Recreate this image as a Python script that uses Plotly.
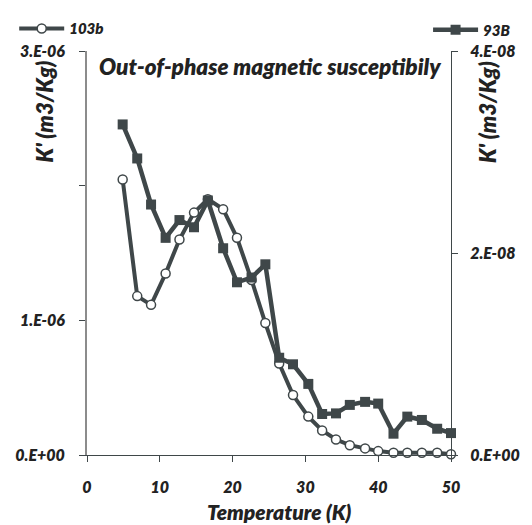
import plotly.graph_objects as go

temps = [4.9, 6.9, 8.8, 10.8, 12.7, 14.7, 16.6, 18.7, 20.6, 22.6, 24.5, 26.4,
         28.3, 30.4, 32.3, 34.2, 36.1, 38.2, 40.0, 42.1, 44.0, 46.0, 48.1, 50.0]

k_103b = [2.046e-6, 1.18e-6, 1.115e-6, 1.348e-6, 1.60e-6, 1.80e-6, 1.90e-6, 1.825e-6,
          1.613e-6, 1.30e-6, 0.98e-6, 0.68e-6, 0.445e-6, 0.285e-6, 0.182e-6, 0.115e-6,
          0.073e-6, 0.049e-6, 0.029e-6, 0.017e-6, 0.017e-6, 0.017e-6, 0.017e-6, 0.005e-6]

k_93b = [3.273e-8, 2.936e-8, 2.48e-8, 2.15e-8, 2.326e-8, 2.255e-8, 2.52e-8, 2.047e-8,
         1.71e-8, 1.757e-8, 1.888e-8, 0.963e-8, 0.898e-8, 0.704e-8, 0.406e-8, 0.412e-8,
         0.496e-8, 0.526e-8, 0.509e-8, 0.211e-8, 0.380e-8, 0.347e-8, 0.260e-8, 0.217e-8]

x_ticks = [0, 10, 20, 30, 40, 50]
left_ticks = [0, 1e-6, 2e-6, 3e-6]
left_labels = ["0.E+00", "1.E-06", "", "3.E-06"]
right_ticks = [0, 2e-8, 4e-8]
right_labels = ["0.E+00", "2.E-08", "4.E-08"]

C = "#3f4749"
FONT = "Lato"
W = 800
tickfont = dict(family=FONT, size=16, color="#222", weight=W, style="italic")
legfont = dict(family=FONT, size=15, color="#222", weight=W, style="italic")

fig = go.Figure()
fig.add_trace(go.Scatter(
    x=temps, y=k_103b, name="103b", mode="lines+markers", yaxis="y",
    line=dict(color=C, width=4),
    marker=dict(symbol="circle", size=9, color="white", line=dict(color=C, width=1.5)),
    cliponaxis=False, legend="legend"))
fig.add_trace(go.Scatter(
    x=temps, y=k_93b, name="93B", mode="lines+markers", yaxis="y2",
    line=dict(color=C, width=4.5),
    marker=dict(symbol="square", size=10, color=C),
    cliponaxis=False, legend="legend2"))

fig.update_layout(
    width=532, height=525,
    margin=dict(l=87, r=75, t=44, b=70),
    paper_bgcolor="white", plot_bgcolor="white",
    font=dict(family=FONT, color="#222"),
    xaxis=dict(range=[0, 50], tickvals=x_ticks, ticktext=[str(v) for v in x_ticks],
               showgrid=False, zeroline=False, showline=True, linecolor=C, linewidth=1,
               ticks="outside", ticklen=6, tickcolor=C, tickfont=tickfont,
               ticklabelstandoff=12),
    yaxis=dict(range=[0, 3e-6], tickvals=left_ticks, ticktext=left_labels,
               showgrid=False, zeroline=False, showline=True, linecolor="#8c8c8c", linewidth=2,
               ticks="outside", ticklen=6, tickcolor=C, tickfont=tickfont,
               ticklabelstandoff=11),
    yaxis2=dict(range=[0, 4e-8], tickvals=right_ticks, ticktext=right_labels,
                overlaying="y", side="right",
                showgrid=False, zeroline=False, showline=True, linecolor=C, linewidth=1,
                ticks="outside", ticklen=6, tickcolor=C, tickfont=tickfont,
                ticklabelstandoff=9),
    legend=dict(x=-0.2, y=1.055, xanchor="left", yanchor="middle",
                bgcolor="rgba(0,0,0,0)", font=legfont, itemwidth=45),
    legend2=dict(x=0.937, y=1.052, xanchor="left", yanchor="middle",
                 bgcolor="rgba(0,0,0,0)", font=legfont, itemwidth=45),
    showlegend=True,
)

ann_font = dict(family=FONT, size=21, color="#222", weight=W, style="italic")
vert_font = dict(family=FONT, size=22, color="#222", weight=W, style="italic")
title_font = dict(family=FONT, size=22.5, color="#222", weight=W, style="italic")
fig.add_annotation(text="Out-of-phase magnetic susceptibily", xref="paper", yref="paper",
                   x=0.504, y=0.961, xanchor="center", yanchor="middle",
                   showarrow=False, font=title_font)
fig.add_annotation(text="K' (m3/Kg)", xref="paper", yref="paper", x=-0.116, y=0.85,
                   xanchor="center", yanchor="middle",
                   textangle=-90, showarrow=False, font=vert_font)
fig.add_annotation(text="K' (m3/Kg)", xref="paper", yref="paper", x=1.1, y=0.85,
                   xanchor="center", yanchor="middle",
                   textangle=-90, showarrow=False, font=vert_font)
fig.add_annotation(text="Temperature (K)", xref="paper", yref="paper", x=0.53, y=-0.141,
                   xanchor="center", yanchor="middle", showarrow=False, font=ann_font)

fig.write_html("out.html")
